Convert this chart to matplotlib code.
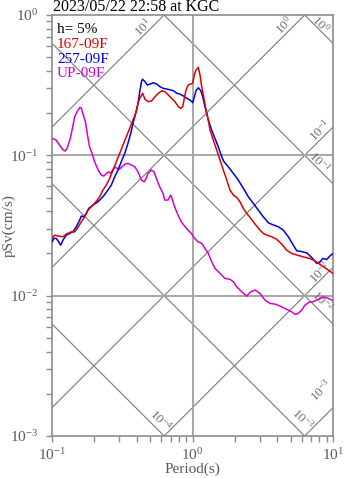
import numpy as np
import matplotlib
matplotlib.use('Agg')
import matplotlib.pyplot as plt
from matplotlib.ticker import LogLocator, FixedLocator, NullFormatter

plt.rcParams['font.family'] = ['Liberation Serif', 'DejaVu Serif']
plt.rcParams['mathtext.fontset'] = 'custom'
plt.rcParams['mathtext.rm'] = 'Liberation Serif'
plt.rcParams['mathtext.it'] = 'Liberation Serif:italic'
plt.rcParams['mathtext.bf'] = 'Liberation Serif:bold'

# ---- pseudo velocity response spectra (h = 5%) ----
mag_T = [0.1, 0.107, 0.113, 0.12, 0.124, 0.128, 0.134, 0.139, 0.145, 0.151, 0.158, 0.162, 0.167,
         0.173, 0.178, 0.185, 0.193, 0.201, 0.213, 0.224, 0.234, 0.245, 0.253, 0.262, 0.272, 0.282,
         0.292, 0.301, 0.315, 0.332, 0.347, 0.367, 0.388, 0.409, 0.432, 0.452, 0.469, 0.482,
         0.509, 0.532, 0.553, 0.584, 0.617, 0.634, 0.670, 0.700, 0.714, 0.746, 0.789, 0.832, 0.904,
         0.980, 1.037, 1.094,
         1.162, 1.227, 1.295, 1.370, 1.445, 1.570, 1.703, 1.849, 1.951, 2.065, 2.240, 2.432, 2.594,
         2.786, 3.020, 3.281, 3.562, 3.864, 4.198, 4.677, 5.082, 5.370, 5.662, 5.984, 6.324, 6.855,
         7.244, 7.656, 8.072, 8.770, 9.268, 10.0]
mag_S = [0.132, 0.1285, 0.1184, 0.1091, 0.1073, 0.1122, 0.1285, 0.1515, 0.1884, 0.2046, 0.2198,
         0.2163, 0.1937, 0.1736, 0.1435, 0.1151, 0.1033, 0.0900, 0.0786, 0.0724, 0.0712, 0.0744,
         0.0764, 0.0744, 0.0795, 0.0821, 0.0808, 0.0795, 0.0829, 0.0867, 0.0877, 0.0853, 0.0829,
         0.0764, 0.0667, 0.0648, 0.0686, 0.0744,
         0.0786, 0.0764, 0.0686, 0.0597, 0.0536, 0.0480, 0.0480, 0.0521, 0.0494, 0.0430, 0.0375,
         0.0336, 0.0302, 0.0278, 0.0256, 0.0242,
         0.0236, 0.0217, 0.0200, 0.01744, 0.01565, 0.01441, 0.01328, 0.01307, 0.01257, 0.01157,
         0.01066, 0.00993, 0.01066, 0.01096, 0.01038, 0.00930, 0.00881, 0.00871, 0.00843, 0.00799,
         0.00768, 0.00736, 0.00748, 0.00790, 0.00857, 0.00905, 0.00905, 0.00930, 0.00957, 0.00973,
         0.00957, 0.00920]

red_T = [0.1, 0.1045, 0.1103, 0.1198, 0.1264, 0.1372, 0.1450, 0.1531, 0.1616, 0.1709, 0.1804,
         0.1904, 0.2013, 0.2185, 0.2307, 0.2435, 0.2575, 0.2718, 0.2869, 0.3033, 0.3201, 0.3380,
         0.3573, 0.3772, 0.3981, 0.4094, 0.4210,
         0.4421, 0.4591, 0.4845, 0.5123, 0.5408, 0.5709, 0.6036, 0.6372, 0.6727, 0.7112, 0.7507,
         0.7924, 0.8241, 0.8515, 0.8699, 0.8988, 0.9335, 0.9710, 1.003, 1.030, 1.059, 1.100, 1.131,
         1.163, 1.207, 1.248,
         1.296, 1.332, 1.406, 1.487, 1.570, 1.657, 1.752, 1.849, 1.951, 2.063, 2.178, 2.299, 2.431,
         2.566, 2.708, 2.864, 3.022, 3.190, 3.374, 3.662, 3.976, 4.315, 4.684, 5.082, 5.516, 6.147,
         6.860, 7.446, 7.861, 8.531, 9.020, 10.0]
red_S = [0.0256, 0.0270, 0.0266, 0.0263, 0.0275, 0.0285, 0.0285, 0.0307, 0.0336, 0.0365, 0.0407,
         0.0430, 0.0455, 0.0507, 0.0566, 0.0614, 0.0686, 0.0786, 0.0900, 0.1033, 0.1184, 0.1357,
         0.1557, 0.1784, 0.2046, 0.2348, 0.2548,
         0.2765, 0.2506, 0.2410, 0.2450, 0.2617, 0.2765, 0.2886, 0.2839, 0.2691, 0.2548, 0.2410,
         0.2220, 0.2163, 0.2220, 0.2478, 0.2920, 0.3170, 0.3222, 0.3259, 0.3736, 0.4055, 0.4238,
         0.3736, 0.3083, 0.2548, 0.2103,
         0.1784, 0.1515, 0.1285, 0.1091, 0.0926, 0.0786, 0.0667, 0.0566, 0.0521, 0.0502, 0.0467,
         0.0419, 0.0386, 0.0361, 0.0336, 0.0313, 0.0293, 0.0278, 0.0270, 0.0263, 0.0252, 0.0233,
         0.0211, 0.0200, 0.0195, 0.0189, 0.0184, 0.0177, 0.0170, 0.0161, 0.0155, 0.0144]

blue_T = [0.1, 0.1033, 0.1073, 0.1116, 0.1153, 0.1198, 0.1264, 0.1337, 0.1411, 0.1489, 0.1575,
          0.1616, 0.1690, 0.1755, 0.1825, 0.1958, 0.2126, 0.2307, 0.2504, 0.2643, 0.2795, 0.2950,
          0.3113, 0.3291, 0.3474, 0.3631, 0.3772, 0.3917, 0.4094, 0.4231,
          0.4350, 0.4421, 0.4591, 0.4767, 0.4982, 0.5260, 0.5562, 0.5871, 0.6197, 0.6727, 0.7300,
          0.7719, 0.8147, 0.8600, 0.9093, 0.9598, 1.003, 1.025, 1.059, 1.100, 1.144, 1.182, 1.227,
          1.262,
          1.296, 1.370, 1.445, 1.526, 1.614, 1.676, 1.798, 1.951, 2.118, 2.299, 2.496, 2.708, 2.940,
          3.190, 3.463, 3.759, 4.080, 4.430, 4.808, 5.217, 5.516, 5.984, 6.499, 7.053, 7.656, 8.072,
          8.447, 9.020, 9.520, 10.0]
blue_S = [0.0242, 0.0256, 0.0256, 0.0242, 0.0229, 0.0249, 0.027, 0.0278, 0.0285, 0.031, 0.0346,
          0.0369, 0.0365, 0.0386, 0.0419, 0.0442, 0.0467, 0.0507, 0.0566, 0.0614, 0.0704, 0.0786,
          0.09, 0.103, 0.122, 0.143, 0.169, 0.194, 0.235, 0.292,
          0.341, 0.348, 0.335, 0.317, 0.322, 0.329, 0.322, 0.308, 0.3, 0.295, 0.289, 0.277, 0.273,
          0.265, 0.255, 0.248, 0.237, 0.255, 0.289, 0.303, 0.289, 0.262, 0.222, 0.199,
          0.178, 0.151, 0.132, 0.115, 0.0977, 0.09, 0.0829, 0.0744, 0.0667, 0.0582, 0.0507, 0.0455,
          0.0407, 0.0365, 0.0331, 0.0319, 0.031, 0.0293, 0.0263, 0.0229, 0.0209, 0.0206, 0.0202,
          0.0187, 0.017, 0.0174, 0.0184, 0.0181, 0.0192, 0.02]

series = [
    ('UP-09F', mag_T, mag_S, '#d400d4'),
    ('257-09F', blue_T, blue_S, '#0000e6'),
    ('167-09F', red_T, red_S, '#e00000'),
]
legend_order = ['167-09F', '257-09F', 'UP-09F']

# tripartite guide lines: acceleration (cm/s^2) and displacement (cm)
accel_levels = [10.0, 1.0, 0.1, 0.01, 0.001]
disp_levels = [1.0, 0.1, 0.01, 0.001, 0.0001]
# (kind, level, period, pSv) of each guide label
guide_labels = [
    ('acc', 10.0, 0.444, 0.821),
    ('acc', 1.0, 4.48, 0.849),
    ('dis', 1.0, 8.21, 0.863),
    ('acc', 0.1, 8.08, 0.149),
    ('dis', 0.1, 7.95, 0.0896),
    ('acc', 0.01, 8.08, 0.0147),
    ('dis', 0.01, 8.35, 0.00915),
    ('acc', 0.001, 8.21, 0.00212),
    ('dis', 0.001, 6.02, 0.00132),
    ('dis', 0.0001, 0.597, 0.0013),
]

GRID = '#a6a6a6'
DIAG = '#7a7a7a'
TXT = '#5a5a5a'

fig = plt.figure(figsize=(3.47, 4.78), dpi=100)
ax = fig.add_axes([52 / 347, 1 - 436 / 478, 281 / 347, 421 / 478])
ax.set_xscale('log')
ax.set_yscale('log')
ax.set_xlim(0.1, 10)
ax.set_ylim(1e-3, 1)

T = np.logspace(-1.2, 1.2, 200)
for a in accel_levels:
    ax.plot(T, a * T / (2 * np.pi), color=DIAG, lw=0.8, zorder=1)
for d in disp_levels:
    ax.plot(T, 2 * np.pi * d / T, color=DIAG, lw=0.8, zorder=1)

for yv in (0.1, 0.01):
    ax.axhline(yv, color=GRID, lw=1.4, zorder=1)
ax.axvline(1.0, color=GRID, lw=1.4, zorder=1)

for kind, lev, tx, sy in guide_labels:
    expo = int(round(np.log10(lev)))
    ax.text(tx, sy, r'$10^{%d}$' % expo, rotation=45 if kind == 'acc' else -45,
            ha='center', va='center', fontsize=9.5, color='#707070', zorder=2)

for name, t, s, c in series:
    ax.plot(t, s, color=c, lw=1.1, zorder=3)

colors = {n: c for n, _, _, c in series}
ax.text(0.018, 0.957, 'h= 5%', transform=ax.transAxes, fontsize=11, color='black',
        va='baseline', ha='left', zorder=4)
for i, n in enumerate(legend_order):
    ax.text(0.018, 0.922 - i * 0.035, n, transform=ax.transAxes, fontsize=11,
            color=colors[n], va='baseline', ha='left', zorder=4)

for sp in ax.spines.values():
    sp.set_color('#8c8c8c')
    sp.set_linewidth(1.2)

ax.xaxis.set_major_locator(FixedLocator([0.1, 1, 10]))
ax.yaxis.set_major_locator(FixedLocator([0.001, 0.01, 0.1, 1]))
ax.xaxis.set_minor_locator(LogLocator(base=10, subs=np.arange(2, 10)))
ax.yaxis.set_minor_locator(LogLocator(base=10, subs=np.arange(2, 10)))
ax.xaxis.set_minor_formatter(NullFormatter())
ax.yaxis.set_minor_formatter(NullFormatter())
ax.set_xticklabels([r'$10^{-1}$', r'$10^{0}$', r'$10^{1}$'])
ax.set_yticklabels([r'$10^{-3}$', r'$10^{-2}$', r'$10^{-1}$', r'$10^{0}$'])
ax.tick_params(which='both', direction='out', length=4, width=1, color='#8c8c8c',
               labelsize=11, labelcolor=TXT, top=False, right=False)
ax.tick_params(axis='x', which='major', pad=4)
ax.tick_params(axis='y', which='major', pad=6)

ax.set_xlabel('Period(s)', fontsize=11, color=TXT)
ax.xaxis.set_label_coords(0.5, -0.064)
ax.set_ylabel('pSv(cm/s)', fontsize=11, color=TXT)
ax.yaxis.set_label_coords(-0.13, 0.5)

fig.text(53 / 347, 1 - 11 / 478, '2023/05/22 22:58 at KGC', fontsize=11.5, color='black',
         ha='left', va='baseline')

fig.savefig('out.png', dpi=100)
